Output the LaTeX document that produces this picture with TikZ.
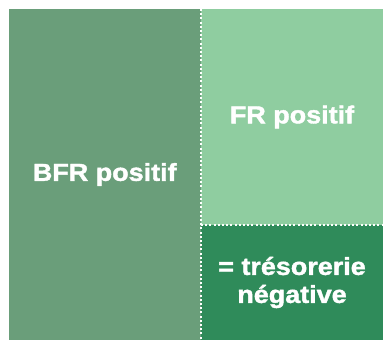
\documentclass[tikz,border=0pt]{standalone}
\usepackage{fontspec}
\setmainfont{Liberation Sans}[FakeStretch=1.1, BoldFeatures={FakeBold=1.6}]
\definecolor{bfrgreen}{RGB}{106,158,122}
\definecolor{frgreen}{RGB}{143,205,160}
\definecolor{tresogreen}{RGB}{47,139,90}
\tikzset{
	box/.style={rectangle, inner sep=0pt, outer sep=0pt, anchor=north west,
		font=\fontsize{24.5}{28}\selectfont\bfseries, text=white, align=center},
	sep/.style={white, line width=2.2pt, dash pattern=on 2pt off 2.2pt}
}
\begin{document}
\begin{tikzpicture}[x=1pt, y=-1pt]
	\useasboundingbox (0,0) rectangle (383,340);
	\node [box, fill=bfrgreen, minimum width=192.5pt, minimum height=331pt] (bfr) at (8.5,9) {BFR positif};
	\node [box, fill=frgreen, minimum width=182pt, minimum height=216pt] (fr) at (201,9) {FR positif};
	\node [box, fill=tresogreen, minimum width=182pt, minimum height=115pt] (treso) at (201,225) {= trésorerie\\négative};
	\draw [sep] (bfr.north east) -- (bfr.south east);
	\draw [sep] (treso.north west) -- (treso.north east);
\end{tikzpicture}
\end{document}
